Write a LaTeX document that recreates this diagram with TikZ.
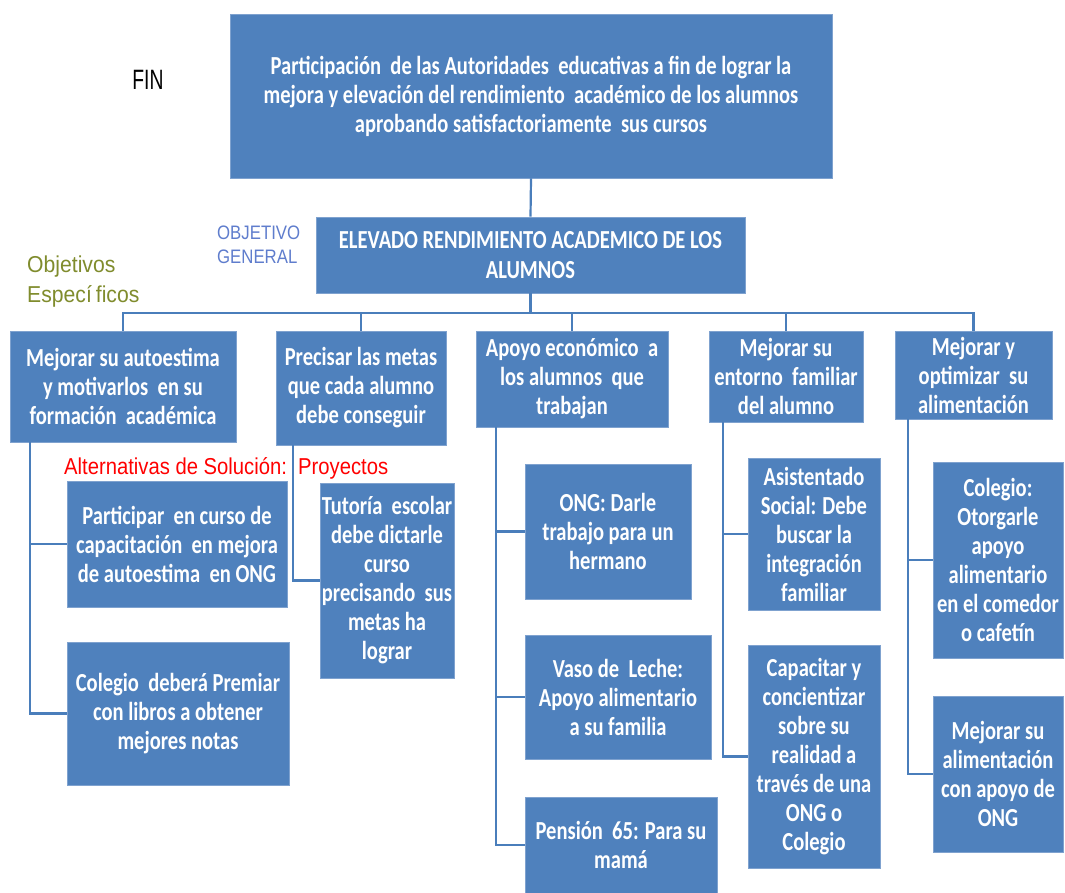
\documentclass[tikz,border=0pt]{standalone}
\usepackage{fontspec}
\setmainfont{Carlito}[FakeStretch=0.79]
\newfontfamily\finfont{Liberation Sans}[FakeStretch=0.69]
\newfontfamily\objfont{Liberation Sans}[FakeStretch=0.86]
\newfontfamily\espfont{Liberation Sans}[FakeStretch=0.92]
\newfontfamily\altfont{Liberation Sans}[FakeStretch=0.88]
\definecolor{boxblue}{HTML}{4F81BD}
\definecolor{boxedge}{HTML}{7FA2CF}
\definecolor{connblue}{HTML}{4A7EBB}
\definecolor{objcol}{RGB}{95,125,205}
\definecolor{olive}{RGB}{128,140,45}
\tikzset{
  box/.style={fill=boxblue, draw=boxedge, line width=0.8pt, text=white, align=center,
    inner sep=0pt, font=\bfseries\fontsize{26}{29}\selectfont},
  conn/.style={draw=connblue, line width=2.2pt},
  lbl/.style={inner sep=0pt, align=left}
}
\begin{document}
\begin{tikzpicture}[x=1pt,y=-1pt]
\fill[white] (0,0) rectangle (1065,893);
\useasboundingbox (0,0) rectangle (1065,893);

% labels
\node[lbl, font=\finfont\fontsize{28}{30}\selectfont] (fin) at (148,80) {FIN};
\node[lbl, anchor=west, text=objcol, font=\objfont\fontsize{19.5}{24}\selectfont] (objg) at (217,245) {OBJETIVO\\GENERAL};
\node[lbl, anchor=west, text=olive, font=\espfont\fontsize{23}{30}\selectfont] (objesp) at (27,282) {Objetivos\\Especí\hspace{4pt}ficos};
\node[lbl, anchor=west, text=red, font=\altfont\fontsize{23}{26}\selectfont] (alt) at (64,468) {Alternativas de Solución:\ \ Proyectos};

% boxes
\node[box, minimum width=602, minimum height=164] (top) at (531,96)
  {Participación\ \ de las Autoridades\ \ educativas a fin de lograr la\\mejora y elevación del rendimiento\ \ académico de los alumnos\\aprobando satisfactoriamente\ \ sus cursos};
\node[box, minimum width=429, minimum height=76, font=\bfseries\fontsize{26}{30}\selectfont] (obj) at (530.5,255)
  {ELEVADO RENDIMIENTO ACADEMICO DE LOS\\ALUMNOS};

\node[box, minimum width=226, minimum height=111] (b1) at (123,386.5)
  {Mejorar su autoestima\\y motivarlos\ \ en su\\formación\ \ académica};
\node[box, minimum width=170, minimum height=114] (b2) at (361,388)
  {Precisar las metas\\que cada alumno\\debe conseguir};
\node[box, minimum width=192, minimum height=96] (b3) at (572,379)
  {Apoyo económico\ \ a\\los alumnos\ \ que\\trabajan};
\node[box, minimum width=154, minimum height=91] (b4) at (786,376.5)
  {Mejorar su\\entorno\ \ familiar\\del alumno};
\node[box, minimum width=157, minimum height=88] (b5) at (973.5,375)
  {Mejorar y\\optimizar\ \ su\\alimentación};

\node[box, minimum width=220, minimum height=126] (p1) at (177,544)
  {Participar\ \ en curso de\\capacitación\ \ en mejora\\de autoestima\ \ en ONG};
\node[box, minimum width=222, minimum height=143] (p2) at (178,713.5)
  {Colegio\ \ deberá Premiar\\con libros a obtener\\mejores notas};
\node[box, minimum width=134, minimum height=195] (t1) at (387,580.5)
  {Tutoría\ \ escolar\\debe dictarle\\curso\\precisando\ \ sus\\metas ha\\lograr};

\node[box, minimum width=166, minimum height=135] (c31) at (608,531.5)
  {ONG: Darle\\trabajo para un\\hermano};
\node[box, minimum width=186, minimum height=124] (c32) at (618,697)
  {Vaso de\ \ Leche:\\Apoyo alimentario\\a su familia};
\node[box, minimum width=192, minimum height=96] (c33) at (621,845)
  {Pensión\ \ 65: Para su\\mamá};

\node[box, minimum width=132, minimum height=152] (c41) at (814,534)
  {Asistentado\\Social: Debe\\buscar la\\integración\\familiar};
\node[box, minimum width=132, minimum height=223] (c42) at (814,756.5)
  {Capacitar y\\concientizar\\sobre su\\realidad a\\través de una\\ONG o\\Colegio};

\node[box, minimum width=130, minimum height=196] (c51) at (998,560)
  {Colegio:\\Otorgarle\\apoyo\\alimentario\\en el comedor\\o cafetín};
\node[box, minimum width=130, minimum height=156] (c52) at (998,774)
  {Mejorar su\\alimentación\\con apoyo de\\ONG};

% connectors
\coordinate (bus) at (0,313);
\draw[conn] (top.south) -- (obj.north);
\draw[conn] (obj.south) -- (obj.south|-bus);
\draw[conn] (b1.north) -- (b1.north|-bus) -- (b5.north|-bus) -- (b5.north);
\foreach \n in {b2,b3,b4} \draw[conn] (\n.north) -- (\n.north|-bus);

\draw[conn] ([xshift=20pt]b1.south west) |- (p1.west);
\draw[conn] ([xshift=20pt]b1.south west) |- (p2.west);
\draw[conn] ([xshift=17pt]b2.south west) |- (t1.west);
\draw[conn] ([xshift=20pt]b3.south west) |- (c31.west);
\draw[conn] ([xshift=20pt]b3.south west) |- (c32.west);
\draw[conn] ([xshift=20pt]b3.south west) |- (c33.west);
\draw[conn] ([xshift=14pt]b4.south west) |- (c41.west);
\draw[conn] ([xshift=14pt]b4.south west) |- (c42.west);
\draw[conn] ([xshift=13pt]b5.south west) |- (c51.west);
\draw[conn] ([xshift=13pt]b5.south west) |- (c52.west);
\end{tikzpicture}
\end{document}
